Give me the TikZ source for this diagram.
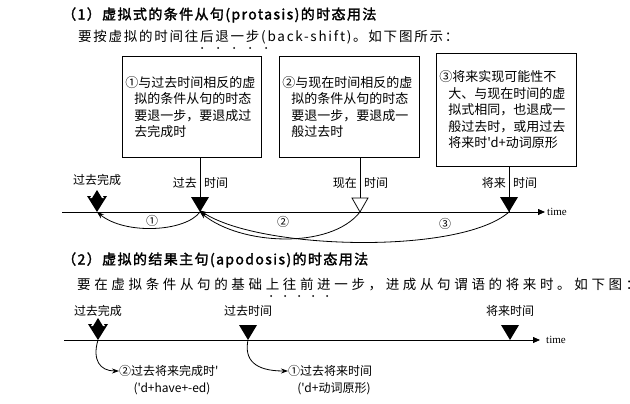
\documentclass[tikz,border=0pt]{standalone}
\usepackage{fontspec}
\setmainfont{Liberation Serif}
\newfontfamily\cjk{Noto Sans CJK SC}
\newfontfamily\cjkb{Noto Sans CJK SC}[FakeBold=2,LetterSpace=10]
\newfontfamily\cjka{Noto Sans CJK SC}[LetterSpace=13]
\newfontfamily\cjkc{Noto Sans CJK SC}[LetterSpace=27]
\usetikzlibrary{arrows.meta}
\begin{document}
\begin{tikzpicture}[x=1pt,y=-1pt,
  txt/.style={font=\cjk\fontsize{12}{14}\selectfont,inner sep=0pt},
  body/.style={font=\cjka\fontsize{13.5}{15}\selectfont,inner sep=0pt,anchor=west},
  ttl/.style={font=\cjkb\fontsize{14}{16}\selectfont,inner sep=0pt,anchor=west},
  box/.style={draw,thick,align=left,anchor=north west,inner sep=3pt,font=\cjk\fontsize{13}{16.5}\selectfont},
  tl/.style={thick,-{Triangle[length=7pt,width=6pt]}},
  cur/.style={thick,-{Stealth[length=7pt,width=5pt]}}]
\useasboundingbox (0,0) rectangle (630,404);
% section 1
\node[ttl] (t1) at (62,15) {（1）虚拟式的条件从句(protasis)的时态用法};
\node[body] (l1) at (78,37) {要按虚拟的时间往后退一步(back-shift)。如下图所示：};
\foreach \x in {202,218,234,250,266} \fill (\x,48) circle (1);
\node[box,text width=133pt,minimum height=101pt] (b1) at (122,56) {①与过去时间相反的虚\\\hspace*{9pt}拟的条件从句的时态\\\hspace*{9pt}要退一步，要退成过\\\hspace*{9pt}去完成时};
\node[box,text width=134pt,minimum height=101pt] (b2) at (279,56) {②与现在时间相反的虚\\\hspace*{9pt}拟的条件从句的时态\\\hspace*{9pt}要退一步，要退成一\\\hspace*{9pt}般过去时};
\node[box,text width=134pt,minimum height=113pt] (b3) at (436,53) {③将来实现可能性不\\\hspace*{9pt}大、与现在时间的虚\\\hspace*{9pt}拟式相同，也退成一\\\hspace*{9pt}般过去时，或用过去\\\hspace*{9pt}将来时'd+动词原形};
\coordinate (p0) at (97,212);
\coordinate (p1) at (200,212);
\coordinate (p2) at (360,212);
\coordinate (p3) at (509,212);
\coordinate (s) at (62,212);
\coordinate (e) at (545,212);
\draw[tl] (s) -- (e);
\node[font=\rmfamily\fontsize{11}{12}\selectfont,anchor=west,inner sep=0pt] (tm) at (547,212) {time};
\draw[thick] (b1.south -| p1) -- (p1);
\draw[thick] (b2.south -| p2) -- (p2);
\draw[thick] (b3.south -| p3) -- (p3);
\fill (p0) ++(-10,-16) -- ++(20,0) -- (p0) -- cycle;
\fill[white] (p0) ++(-7,-14) -- ++(14,0) -- ++(-7,-11.5) -- cycle;
\fill (p0) ++(-5.5,-13) -- ++(11,0) -- ++(-5.5,-9) -- cycle;
\fill (p1) ++(-9,-15) -- ++(18,0) -- (p1) -- cycle;
\draw[thick,fill=white] (p2) ++(-8,-14) -- ++(16,0) -- (p2) -- cycle;
\fill (p3) ++(-9,-15) -- ++(18,0) -- (p3) -- cycle;
\node[txt] (n0) at (97,180) {过去完成};
\node[txt,anchor=east] (n1) at (197,183) {过去};
\node[txt,anchor=west] (n1b) at (204,183) {时间};
\node[txt,anchor=east] (n2) at (357,183) {现在};
\node[txt,anchor=west] (n2b) at (364,183) {时间};
\node[txt,anchor=east] (n3) at (506,183) {将来};
\node[txt,anchor=west] (n3b) at (513,183) {时间};
\draw[cur] (p1) .. controls (185,232) and (125,235) .. (p0);
\draw[cur] (p2) .. controls (330,250) and (240,245) .. (p1);
\draw[cur] (p3) .. controls (460,255) and (260,250) .. ([yshift=1.5]p1);
\node[txt] (c1) at (152,221) {①};
\node[txt] (c2) at (283,222) {②};
\node[txt] (c3) at (445,224) {③};
% section 2
\node[ttl] (t2) at (62,260) {（2）虚拟的结果主句(apodosis)的时态用法};
\node[body,font=\cjkc\fontsize{13.5}{15}\selectfont] (l2) at (77,285) {要在虚拟条件从句的基础上往前进一步，进成从句谓语的将来时。如下图：};
\foreach \x in {271,285,299,313,327} \fill (\x,296) circle (1);
\coordinate (q0) at (98,340);
\coordinate (q1) at (248,340);
\coordinate (q2) at (510,340);
\coordinate (s2) at (64,340);
\coordinate (e2) at (540,340);
\draw[tl] (s2) -- (e2);
\node[font=\rmfamily\fontsize{11}{12}\selectfont,anchor=west,inner sep=0pt] (tm2) at (546,340) {time};
\fill (q0) ++(-10,-16) -- ++(20,0) -- (q0) -- cycle;
\fill[white] (q0) ++(-7,-14) -- ++(14,0) -- ++(-7,-11.5) -- cycle;
\fill (q0) ++(-5.5,-13) -- ++(11,0) -- ++(-5.5,-9) -- cycle;
\fill (q1) ++(-9,-15) -- ++(18,0) -- (q1) -- cycle;
\fill (q2) ++(-9,-15) -- ++(18,0) -- (q2) -- cycle;
\node[txt] (m0) at (98,311) {过去完成};
\node[txt] (m1) at (248,311) {过去时间};
\node[txt] (m2) at (510,311) {将来时间};
\node[txt,anchor=west] (r2) at (119,371) {②过去将来完成时'};
\node[txt] (r2b) at (172,389) {('d+have+-ed)};
\node[txt,anchor=west] (r1) at (288,371) {①过去将来时间};
\node[txt] (r1b) at (334,389) {('d+动词原形)};
\draw[cur] (q0) .. controls (92,360) and (100,371) .. (r2.west);
\draw[cur] (q1) .. controls (244,360) and (255,371) .. (r1.west);
\end{tikzpicture}
\end{document}
